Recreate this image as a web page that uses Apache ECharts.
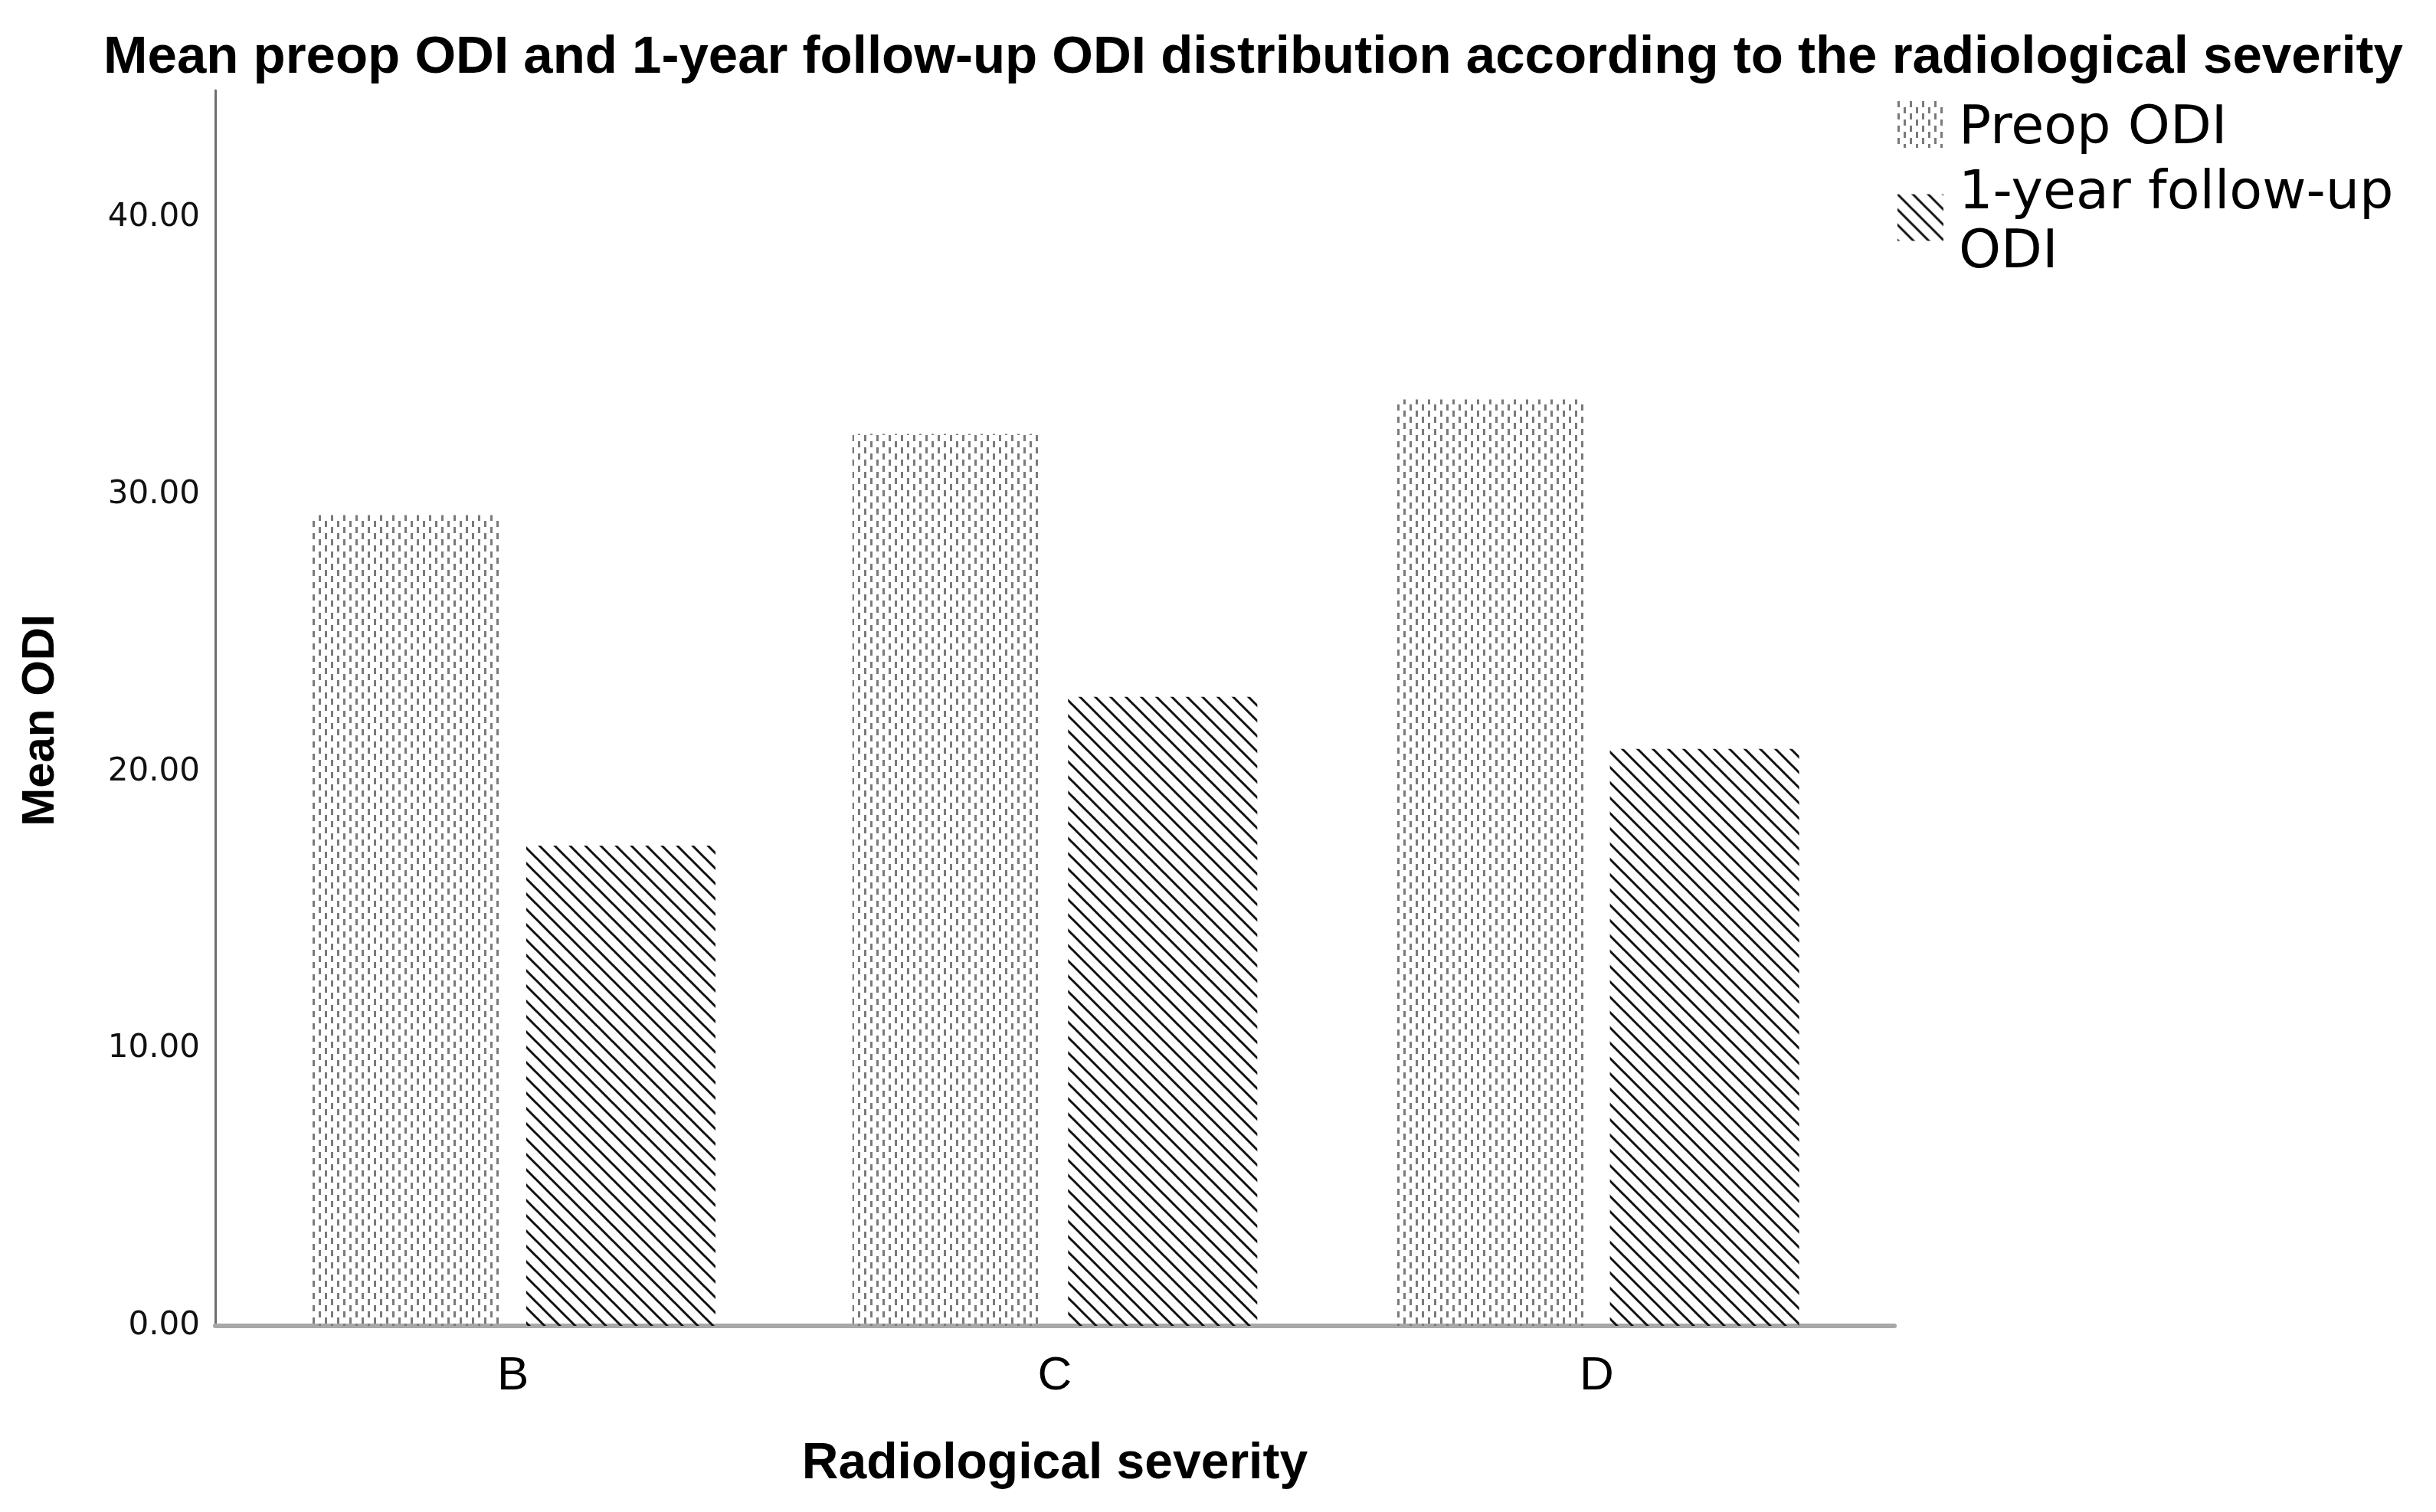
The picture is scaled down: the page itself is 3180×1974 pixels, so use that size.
<!DOCTYPE html>
<html>
<head>
<meta charset="utf-8">
<script src="https://cdn.jsdelivr.net/npm/echarts@6/dist/echarts.min.js"></script>
<style>
html,body{margin:0;padding:0;background:#ffffff;}
#chart{width:3180px;height:1974px;}
</style>
</head>
<body>
<div id="chart"></div>
<script>
const titleText = 'Mean preop ODI and 1-year follow-up ODI distribution according to the radiological severity';
const xAxisTitle = 'Radiological severity';
const yAxisTitle = 'Mean ODI';
const categories = ['B', 'C', 'D'];
const seriesNames = ['Preop ODI', '1-year follow-up ODI'];
const legendLines = [['Preop ODI'], ['1-year follow-up', 'ODI']];
const preopODI = [29.27, 32.2, 33.44];
const followUpODI = [17.34, 22.71, 20.83];
const yTickValues = [0, 10, 20, 30, 40];
const yTickLabels = ['0.00', '10.00', '20.00', '30.00', '40.00'];
const yMax = 44.6;

function dashPattern() {
  const c = document.createElement('canvas');
  c.width = 16; c.height = 16;
  const g = c.getContext('2d');
  g.fillStyle = '#7a7a7a';
  g.fillRect(0, 0, 3, 8);
  g.fillRect(8, 8, 3, 8);
  return c;
}
function hatchPattern() {
  const c = document.createElement('canvas');
  c.width = 20; c.height = 20;
  const g = c.getContext('2d');
  g.strokeStyle = '#111111';
  g.lineWidth = 3;
  g.beginPath();
  [-20, 0, 20].forEach(function (o) {
    g.moveTo(o - 2, -2);
    g.lineTo(o + 22, 22);
  });
  g.stroke();
  return c;
}

const preopFill = { image: dashPattern(), repeat: 'repeat' };
const followFill = { image: hatchPattern(), repeat: 'repeat' };

const chart = echarts.init(document.getElementById('chart'), null, { renderer: 'canvas' });
const boldFont = 'Liberation Sans';

chart.setOption({
  animation: false,
  backgroundColor: '#ffffff',
  title: {
    text: titleText,
    left: 1636,
    top: 41,
    textAlign: 'center',
    padding: 0,
    textStyle: { fontFamily: boldFont, fontWeight: 'bold', fontSize: 69, lineHeight: 69, color: '#000000' }
  },
  legend: {
    orient: 'vertical',
    left: 2477,
    top: 118,
    padding: 0,
    itemWidth: 60,
    itemHeight: 61,
    itemGap: -8,
    icon: 'rect',
    data: seriesNames,
    formatter: function (name) {
      const i = seriesNames.indexOf(name);
      const spacer = i === 0 ? '{s1| }' : '{s2| }';
      return spacer + '\n' + legendLines[i].map(function (l) { return '{t|' + l + '}'; }).join('\n');
    },
    textStyle: {
      fontFamily: 'DejaVu Sans', fontSize: 70, lineHeight: 77, color: '#000000', padding: [0, 0, 0, 15],
      rich: {
        t: { fontFamily: 'DejaVu Sans', fontSize: 70, lineHeight: 77, color: '#000000' },
        s1: { fontSize: 1, lineHeight: 12 },
        s2: { fontSize: 1, lineHeight: 16 }
      }
    }
  },
  grid: [
    { left: 281, right: 707, top: 118, bottom: 243, containLabel: false },
    { left: 316, right: 742, top: 118, bottom: 243, containLabel: false }
  ],
  xAxis: [
    {
      gridIndex: 0, type: 'value', min: 0, max: 1,
      axisLine: { show: true, lineStyle: { color: '#a8a8a8', width: 6 } },
      axisTick: { show: false }, axisLabel: { show: false }, splitLine: { show: false }
    },
    {
      gridIndex: 1, type: 'category', data: categories,
      axisLine: { show: false }, axisTick: { show: false }, splitLine: { show: false },
      axisLabel: { fontFamily: boldFont, fontSize: 62, lineHeight: 62, color: '#000000', margin: 35 },
      name: xAxisTitle, nameLocation: 'middle', nameGap: 148,
      nameTextStyle: { fontFamily: boldFont, fontWeight: 'bold', fontSize: 66, lineHeight: 66, color: '#000000' }
    }
  ],
  yAxis: [
    {
      gridIndex: 0, type: 'value', min: 0, max: yMax, interval: 10,
      axisLine: { show: true, lineStyle: { color: '#6e6e6e', width: 3 } },
      axisTick: { show: false }, splitLine: { show: false },
      axisLabel: {
        showMaxLabel: false,
        formatter: function (v) { const i = yTickValues.indexOf(v); return i >= 0 ? yTickLabels[i] : ''; },
        fontFamily: 'DejaVu Sans', fontSize: 42, color: '#111111', margin: 20
      },
      name: yAxisTitle, nameLocation: 'middle', nameGap: 198, nameRotate: 90,
      nameTextStyle: { fontFamily: boldFont, fontWeight: 'bold', fontSize: 60, lineHeight: 60, color: '#000000', padding: [0, 32, 0, 0] }
    },
    { gridIndex: 1, type: 'value', min: 0, max: yMax, show: false }
  ],
  series: [
    {
      name: seriesNames[0], type: 'bar', xAxisIndex: 1, yAxisIndex: 1,
      data: preopODI, barWidth: 247, barGap: '14%',
      itemStyle: { color: preopFill }
    },
    {
      name: seriesNames[1], type: 'bar', xAxisIndex: 1, yAxisIndex: 1,
      data: followUpODI, barWidth: 247, barGap: '14%',
      itemStyle: { color: followFill }
    }
  ]
});
</script>
</body>
</html>
